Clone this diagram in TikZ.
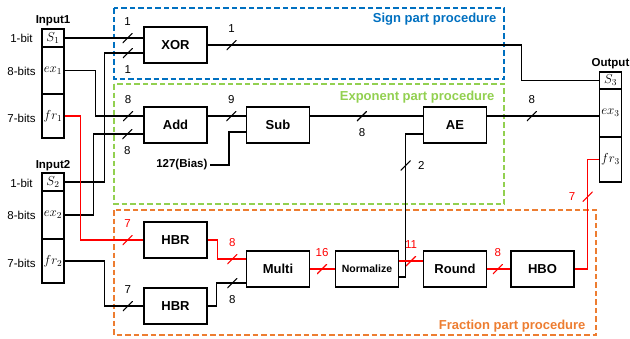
\RequirePackage{fix-cm}
\documentclass[tikz,border=0pt]{standalone}
\usepackage{fontspec}
\setmainfont{Liberation Sans}
\usepackage{amsmath}
\definecolor{signblue}{RGB}{0,112,192}
\definecolor{expgreen}{RGB}{146,208,80}
\definecolor{fracorange}{RGB}{237,125,49}

\begin{document}
\begin{tikzpicture}[x=1pt, y=-1pt, line width=1.1pt, label distance=3pt,
  font=\fontsize{11.5}{13}\selectfont,
  block/.style={rectangle, draw, line width=1.4pt, minimum width=63pt, minimum height=36pt, font=\fontsize{13}{15}\selectfont\bfseries},
  field/.style={rectangle, draw, line width=1.4pt, minimum width=22pt, inner sep=0pt, font=\fontsize{13}{15}\selectfont},
  heading/.style={font=\fontsize{11.5}{13}\selectfont\bfseries},
  parttitle/.style={font=\fontsize{13}{15}\selectfont\bfseries, anchor=base east, inner sep=0pt},
  part/.style={line width=1.4pt, dash pattern=on 5.5pt off 3pt},
  bus/.style={minimum size=10pt, inner sep=0pt, path picture={\draw[line width=1.1pt] (path picture bounding box.south west) -- (path picture bounding box.north east);}},
  busup/.style={bus, label={above:#1}},
  busdown/.style={bus, label={below:#1}},
  busleft/.style={bus, label={left:#1}},
  busright/.style={bus, label={right:#1}}]

    \useasboundingbox (0,0) rectangle (630,338);

    % procedure frames
    \draw[part, signblue] (114,8) rectangle (504,79);
    \draw[part, expgreen] (114,84) rectangle (504,204);
    \draw[part, fracorange] (114,210) rectangle (596,335);
    \node[parttitle, signblue] (signlbl) at (497,22) {Sign part procedure};
    \node[parttitle, expgreen] (explbl) at (495,100) {Exponent part procedure};
    \node[parttitle, fracorange] (fraclbl) at (586,329) {Fraction part procedure};

    % inputs and output
    \node[heading, anchor=base] (in1lbl) at (53,23) {Input1};
    \node[field, minimum height=18pt] (in1s) at (53,38) {$S_1$};
    \node[field, minimum height=47pt] (in1e) at (53,70.5) {$ex_1$};
    \node[field, minimum height=44pt] (in1f) at (53,116) {$fr_1$};
    \node (bit1a) at (21.5,38) {1-bit};
    \node (bit8a) at (21.5,71) {8-bits};
    \node (bit7a) at (21.5,118) {7-bits};

    \node[heading, anchor=base] (in2lbl) at (53,168.5) {Input2};
    \node[field, minimum height=18pt] (in2s) at (53,182) {$S_2$};
    \node[field, minimum height=48pt] (in2e) at (53,215) {$ex_2$};
    \node[field, minimum height=44pt] (in2f) at (53,261) {$fr_2$};
    \node (bit1b) at (21.5,183) {1-bit};
    \node (bit8b) at (21.5,215) {8-bits};
    \node (bit7b) at (21.5,263) {7-bits};

    \node[heading, anchor=base] (outlbl) at (610.5,66) {Output};
    \node[field, minimum height=17pt] (outs) at (610.5,80.5) {$S_3$};
    \node[field, minimum height=48pt] (oute) at (610.5,113) {$ex_3$};
    \node[field, minimum height=45pt] (outf) at (610.5,159.5) {$fr_3$};

    % blocks
    \node[block] (xor) at (175.5,45) {XOR};
    \node[block] (add) at (175.5,125) {Add};
    \node[block] (sub) at (278,125) {Sub};
    \node[block] (ae) at (455,125) {AE};
    \node[block] (hbr1) at (175.5,240) {HBR};
    \node[block] (hbr2) at (175.5,306) {HBR};
    \node[block] (multi) at (278,269) {Multi};
    \node[block, font=\fontsize{10.5}{12}\selectfont\bfseries] (norm) at (367,269) {Normalize};
    \node[block] (round) at (455,269) {Round};
    \node[block] (hbo) at (542.5,269) {HBO};
    \node[heading, anchor=east, inner sep=2pt] (bias) at (210,165) {127(Bias)};

    % sign
    \draw (in1s.east) -- node[busup=1, pos=0.8] {} (in1s.east -| xor.west);
    \draw (in2s.east) -- ++(40,0) |- node[busdown=1, pos=0.8] {} ([yshift=-8pt]xor.west);
    \draw (xor.east) -- node[busup=1, pos=0.076] {} ++(314,0) |- (outs.west);

    % exponent
    \draw (in1e.east) -- ++(31,0) |- node[busup=8, pos=0.84] {} ([yshift=9pt]add.west);
    \draw (in2e.east) -- ++(29,0) |- node[busdown=8, pos=0.84] {} ([yshift=-9pt]add.west);
    \draw ([yshift=9pt]add.east) -- node[busup=9, pos=0.62] {} ([yshift=9pt]sub.west);
    \draw (bias.east) -- ++(19,0) |- ([yshift=-7pt]sub.west);
    \draw ([yshift=9pt]sub.east) -- node[busdown=8, pos=0.46] {} ([yshift=9pt]ae.west);
    \draw ([yshift=9pt]ae.east) -- node[busup=8, pos=0.4] {} ([yshift=9pt]ae.east -| oute.west);
    \draw ([yshift=-8pt]norm.east) -- ++(6.5,0) |- node[busright=2, pos=0.39] {} ([yshift=-9pt]ae.west);

    % fraction
    \draw[red] (in1f.east) -- ++(16,0) |- node[busup=7, pos=0.875] {} (hbr1.west);
    \draw (in2f.east) -- ++(40,0) |- node[busup=7, pos=0.8] {} (hbr2.west);
    \draw[red] (hbr1.east) -- ++(10,0) |- node[busup=8, pos=0.76] {} ([yshift=10pt]multi.west);
    \draw (hbr2.east) -- ++(9,0) |- node[busdown=8, pos=0.77] {} ([yshift=-14pt]multi.west);
    \draw[red] (multi.east) -- node[busup=16, pos=0.48] {} (norm.west);
    \draw[red] ([yshift=8pt]norm.east) -- node[busup=11, pos=0.5] {} ([yshift=8pt]round.west);
    \draw[red] (round.east) -- node[busup=8, pos=0.46] {} (hbo.west);
    \draw[red] (hbo.east) -- ++(13,0) |- node[busleft=7, pos=0.33] {} (outf.west);

\end{tikzpicture}
\end{document}
